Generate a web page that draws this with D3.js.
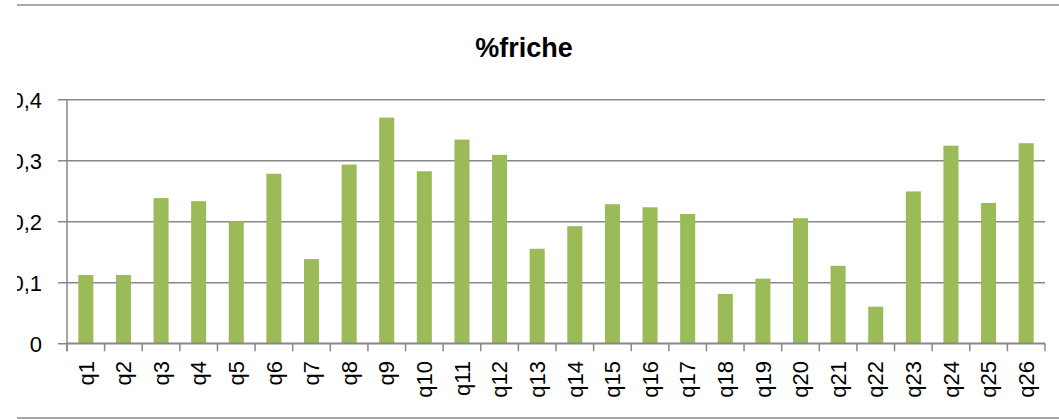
<!DOCTYPE html>
<html>
<head>
<meta charset="utf-8">
<script src="https://cdn.jsdelivr.net/npm/d3@7"></script>
<style>
  body { margin: 0; background: #fff; }
  svg { display: block; }
</style>
</head>
<body>
<div id="chart"></div>
<script>
// chart data
var categories = ['q1', 'q2', 'q3', 'q4', 'q5', 'q6', 'q7', 'q8', 'q9', 'q10', 'q11', 'q12', 'q13',
  'q14', 'q15', 'q16', 'q17', 'q18', 'q19', 'q20', 'q21', 'q22', 'q23', 'q24', 'q25', 'q26']
var friche = [0.112, 0.112, 0.238, 0.233, 0.200, 0.278, 0.138, 0.293, 0.370, 0.282, 0.334, 0.309, 0.155,
  0.192, 0.228, 0.223, 0.212, 0.081, 0.106, 0.205, 0.127, 0.060, 0.249, 0.324, 0.230, 0.328]
var yTicks = [0, 0.1, 0.2, 0.3, 0.4]
var yTickLabels = ['0', '0,1', '0,2', '0,3', '0,4']

var width = 1059
var height = 419
// plot area edges (window.top is reserved, so use other names)
var plotLeft = 67, plotRight = 1045, plotTop = 99.3, plotBottom = 343.3

var svg = d3.select('#chart')
  .append('svg')
  .attr('width', width)
  .attr('height', height)

// the picture is cut on the left, so clip everything there
svg.append('defs').append('clipPath')
  .attr('id', 'cut')
  .append('rect')
  .attr('x', 17).attr('y', 0)
  .attr('width', width - 17).attr('height', height)

var canvas = svg.append('g').attr('clip-path', 'url(#cut)')

// outer border (only top and bottom are visible)
canvas.append('line')
  .attr('x1', 17).attr('x2', width).attr('y1', 5).attr('y2', 5)
  .attr('stroke', '#8c8c8c').attr('stroke-width', 1.5)
canvas.append('line')
  .attr('x1', 17).attr('x2', width).attr('y1', 418).attr('y2', 418)
  .attr('stroke', '#8c8c8c').attr('stroke-width', 1.5)

canvas.append('text')
  .attr('x', 524)
  .attr('y', 57)
  .attr('text-anchor', 'middle')
  .attr('font-family', 'Liberation Sans, Arial, sans-serif')
  .attr('font-weight', 'bold')
  .attr('font-size', 27)
  .attr('fill', '#000')
  .text('%friche')

var x = d3.scaleBand()
  .domain(categories)
  .range([plotLeft, plotRight])
  .paddingInner(0.6)
  .paddingOuter(0.3)

var bandStep = (plotRight - plotLeft) / categories.length

var y = d3.scaleLinear()
  .domain([0, 0.4])
  .range([plotBottom, plotTop])

// gridlines + y axis
var yAxis = d3.axisLeft(y)
  .tickValues(yTicks)
  .tickSize(plotRight - plotLeft + 9)
  .tickFormat(function (d, i) { return yTickLabels[i] })

var gy = canvas.append('g')
  .attr('transform', 'translate(' + plotRight + ',0)')
  .call(yAxis)
gy.select('.domain').remove()
gy.selectAll('.tick line')
  .attr('stroke', '#888')
  .attr('stroke-width', 1.5)
gy.selectAll('.tick text')
  .attr('x', -(plotRight - 42))
  .attr('dy', '0.35em')
  .attr('font-family', 'Liberation Sans, Arial, sans-serif')
  .attr('font-size', 22)
  .attr('fill', '#000')

// left axis line
canvas.append('line')
  .attr('x1', plotLeft).attr('x2', plotLeft)
  .attr('y1', y(0.4)).attr('y2', plotBottom + 8)
  .attr('stroke', '#888').attr('stroke-width', 1.5)

// bars
canvas.selectAll('rect.bar')
  .data(friche)
  .enter()
  .append('rect')
  .attr('class', 'bar')
  .attr('x', function (d, i) { return x(categories[i]) })
  .attr('width', x.bandwidth())
  .attr('y', function (d) { return y(d) })
  .attr('height', function (d) { return plotBottom - y(d) })
  .attr('fill', '#9bbb59')

// x axis with ticks between the categories
var boundaries = d3.range(categories.length + 1)
canvas.append('line')
  .attr('x1', plotLeft).attr('x2', plotRight)
  .attr('y1', plotBottom).attr('y2', plotBottom)
  .attr('stroke', '#888').attr('stroke-width', 1.5)
canvas.selectAll('line.xtick')
  .data(boundaries)
  .enter()
  .append('line')
  .attr('class', 'xtick')
  .attr('x1', function (d) { return plotLeft + d * bandStep })
  .attr('x2', function (d) { return plotLeft + d * bandStep })
  .attr('y1', plotBottom)
  .attr('y2', plotBottom + 8)
  .attr('stroke', '#888').attr('stroke-width', 1.5)

canvas.selectAll('text.xlabel')
  .data(categories)
  .enter()
  .append('text')
  .attr('class', 'xlabel')
  .attr('transform', function (d) {
    return 'translate(' + (x(d) + x.bandwidth() / 2) + ',' + 361 + ') rotate(-90)'
  })
  .attr('text-anchor', 'end')
  .attr('dy', '0.35em')
  .attr('font-family', 'Liberation Sans, Arial, sans-serif')
  .attr('font-size', 22)
  .attr('fill', '#000')
  .text(function (d) { return d })
</script>
</body>
</html>
